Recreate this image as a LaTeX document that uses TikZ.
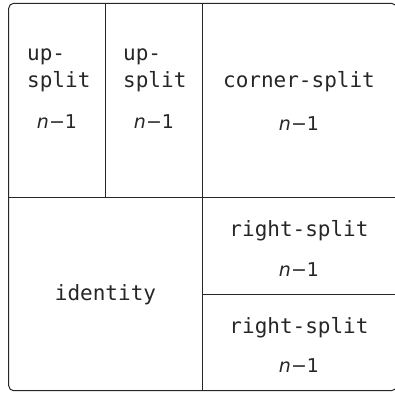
\documentclass[tikz,border=0pt]{standalone}
\usepackage{fontspec}
\setmonofont{DejaVu Sans Mono}
\newfontfamily\numfont{DejaVu Sans}
\begin{document}
\begin{tikzpicture}[x=1pt,y=-1pt,
  frame/.style={draw=black!85,line width=1pt},
  lbl/.style={inner sep=0pt,anchor=base,font=\ttfamily\fontsize{21}{26}\selectfont,text=black!85},
  lblw/.style={inner sep=0pt,anchor=base west,font=\ttfamily\fontsize{21}{26}\selectfont,text=black!85},
  num/.style={inner sep=0pt,anchor=base,font=\numfont\fontsize{19}{24}\selectfont,text=black!85}]
\useasboundingbox (0,0) rectangle (395,392);
% frame and dividers
\coordinate (tl) at (8.7,3.3);
\coordinate (br) at (396.5,390.7);
\draw[frame,rounded corners=5pt] (tl) rectangle (br);
\coordinate (v1t) at (105.7,3.3);
\coordinate (v1b) at (105.7,197);
\coordinate (v2t) at (202,3.3);
\coordinate (v2b) at (202,390.7);
\coordinate (hl) at (8.7,197);
\coordinate (hr) at (396.5,197);
\coordinate (h2l) at (202,294);
\coordinate (h2r) at (396.5,294);
\draw[frame] (v1t) -- (v1b);
\draw[frame] (v2t) -- (v2b);
\draw[frame] (hl) -- (hr);
\draw[frame] (h2l) -- (h2r);
% labels
\node[lblw] (ua1) at (27,60) {up-};
\node[lblw] (ub1) at (27,87) {split};
\node[num] (un1) at (57,128) {\textit{n}−1};
\node[lblw] (ua2) at (123,60) {up-};
\node[lblw] (ub2) at (123,87) {split};
\node[num] (un2) at (154,128) {\textit{n}−1};
\node[lbl] (cs) at (299,87.5) {corner-split};
\node[num] (csn) at (299,130) {\textit{n}−1};
\node[lbl] (id) at (105.5,300.7) {identity};
\node[lbl] (rs1) at (299,236) {right-split};
\node[num] (rs1n) at (299,276) {\textit{n}−1};
\node[lbl] (rs2) at (299,333) {right-split};
\node[num] (rs2n) at (299,372.7) {\textit{n}−1};
\end{tikzpicture}
\end{document}
